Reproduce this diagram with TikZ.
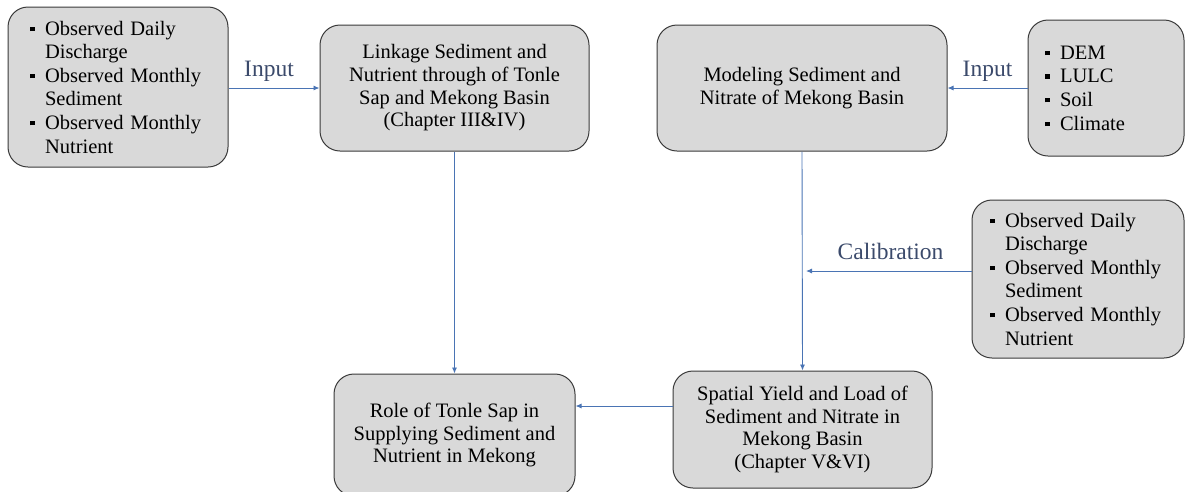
\documentclass[tikz,border=0pt]{standalone}
\usepackage{fontspec}
\setmainfont{LiberationSerif}[Extension=.ttf, UprightFont=*-Regular, BoldFont=*-Bold, ItalicFont=*-Italic, BoldItalicFont=*-BoldItalic]
\usetikzlibrary{arrows.meta}
\definecolor{boxfill}{HTML}{D9D9D9}
\definecolor{boxline}{HTML}{3A3A3A}
\definecolor{arrowblue}{HTML}{4A74B4}
\definecolor{labelcol}{HTML}{3B4A6B}
\newcommand\bul{\makebox[15pt][l]{\raisebox{4pt}{\rule{4.5pt}{4.5pt}}}}
\newcommand\ind{\hspace*{15pt}}
\tikzset{
  procbox/.style={draw=boxline, line width=1pt, fill=boxfill, rounded corners=20pt,
    align=center, inner sep=0pt, font=\fontsize{20.5}{22.7}\selectfont},
  listbox/.style={procbox, align=left, font=\fontsize{20.5}{23.6}\selectfont},
  flow/.style={draw=arrowblue, line width=0.9pt, -{Latex[length=6pt,width=5pt]}},
  lbl/.style={text=labelcol, font=\fontsize{23.5}{26}\selectfont, inner sep=0pt}
}
\begin{document}
\begin{tikzpicture}[x=1pt,y=-1pt]
\useasboundingbox (0,0) rectangle (1186,491);
% boxes
\node[listbox, minimum width=220pt, minimum height=160pt, text width=176pt] (obs1) at (118,87)
  {\bul Observed Daily\\ \ind Discharge\\ \bul Observed Monthly\\ \ind Sediment\\ \bul Observed Monthly\\ \ind Nutrient};
\node[procbox, minimum width=269pt, minimum height=126pt] (link) at (454.5,88)
  {Linkage Sediment and\\ Nutrient through of Tonle\\ Sap and Mekong Basin\\ (Chapter III\&IV)};
\node[procbox, minimum width=290pt, minimum height=126pt] (model) at (802,88)
  {Modeling Sediment and\\ Nitrate of Mekong Basin};
\node[listbox, minimum width=156pt, minimum height=136pt, text width=122pt] (dem) at (1106,88)
  {\bul DEM\\ \bul LULC\\ \bul Soil\\ \bul Climate};
\node[listbox, minimum width=212pt, minimum height=158pt, text width=176pt] (obs2) at (1078,279)
  {\bul Observed Daily\\ \ind Discharge\\ \bul Observed Monthly\\ \ind Sediment\\ \bul Observed Monthly\\ \ind Nutrient};
\node[procbox, minimum width=241pt, minimum height=122pt] (role) at (454.5,435)
  {Role of Tonle Sap in\\ Supplying Sediment and\\ Nutrient in Mekong};
\node[procbox, minimum width=259pt, minimum height=117pt] (spatial) at (802.5,429.5)
  {Spatial Yield and Load of\\ Sediment and Nitrate in\\ Mekong Basin\\ (Chapter V\&VI)};
% connectors
\draw[flow] (obs1.east |- 0,88) -- (link.west |- 0,88);
\node[lbl] (in1) at (269,71) {Input};
\draw[flow] (dem.west |- 0,88) -- (model.east |- 0,88);
\node[lbl] (in2) at (987.5,71) {Input};
\draw[flow] (link.south) -- (role.north);
\draw[flow] (model.south) -- (spatial.north);
\coordinate (calend) at (806,271);
\draw[flow] (obs2.west |- calend) -- (calend);
\node[lbl] (cal) at (890.5,251) {Calibration};
\draw[flow] (spatial.west |- 0,406) -- (role.east |- 0,406);
\end{tikzpicture}
\end{document}
